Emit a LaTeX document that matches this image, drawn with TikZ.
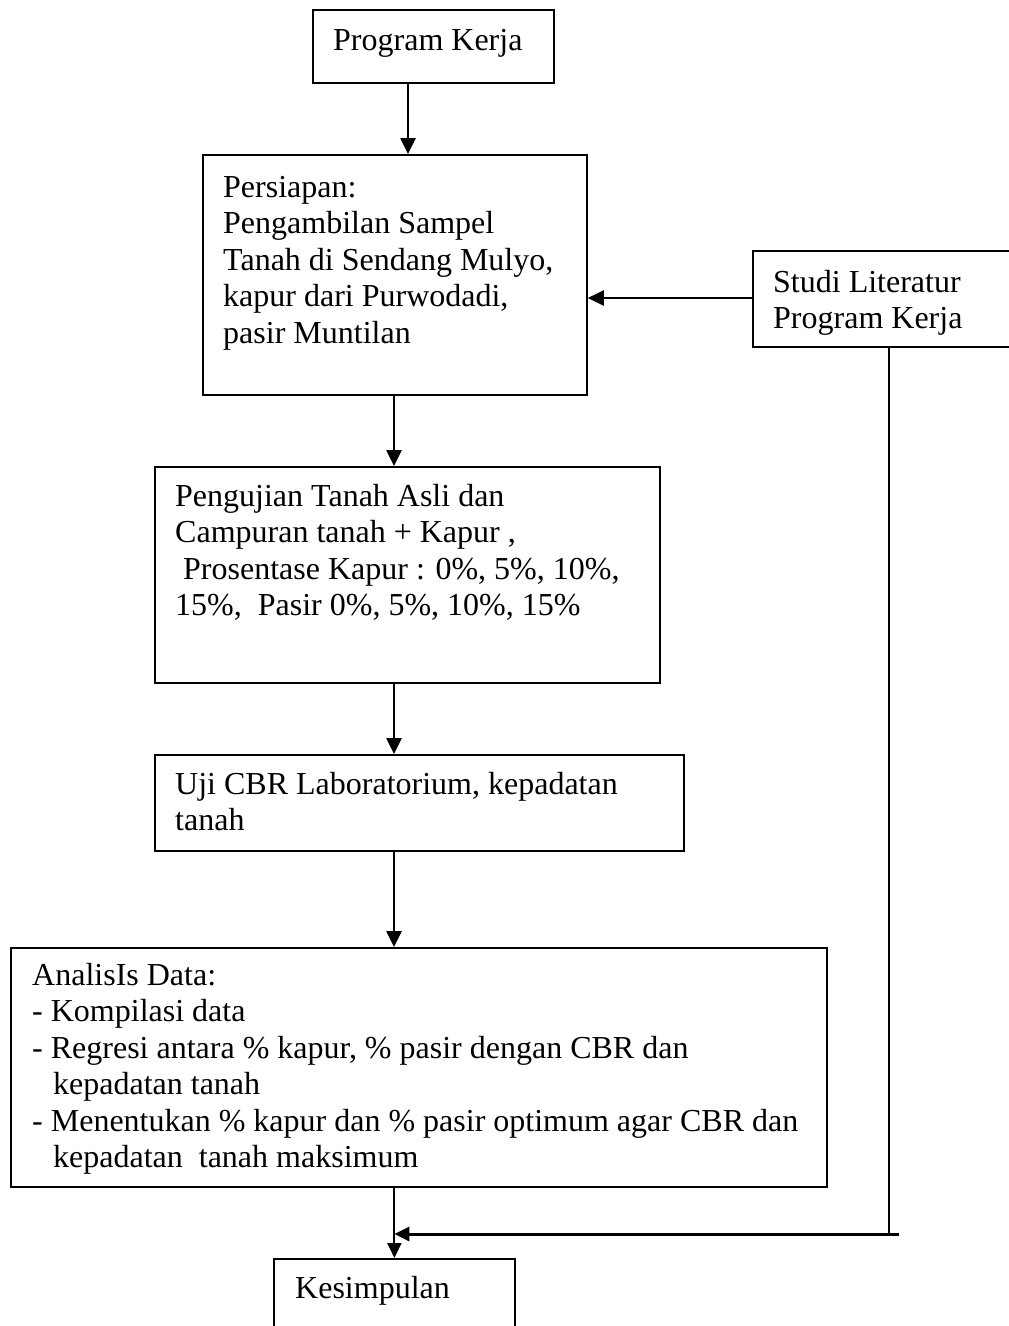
\documentclass[tikz,border=0pt]{standalone}
\usepackage{fontspec}
\setmainfont{Liberation Serif}
\usetikzlibrary{arrows.meta}
\begin{document}
\begin{tikzpicture}[x=1pt,y=-1pt,
  box/.style={draw, line width=1.8pt, rectangle, anchor=north west, inner sep=0pt},
  txt/.style={anchor=north west, inner sep=0pt, align=left, font=\fontsize{32}{36.5}\selectfont},
  arr/.style={line width=2.6pt, -{Triangle[length=16pt,width=15pt]}},
]
\useasboundingbox (0,0) rectangle (1009,1326);
\fill[white] (0,0) rectangle (1009,1326);

% boxes
\node[box, minimum width=241pt, minimum height=73pt] (prog) at (312,9) {};
\node[box, minimum width=384pt, minimum height=240pt] (persiapan) at (202,154) {};
\node[box, minimum width=290pt, minimum height=96pt] (studi) at (752,250) {};
\node[box, minimum width=505pt, minimum height=216pt] (pengujian) at (154,466) {};
\node[box, minimum width=529pt, minimum height=96pt] (uji) at (154,754) {};
\node[box, minimum width=816pt, minimum height=239pt] (analisis) at (10,947) {};
\node[box, minimum width=241pt, minimum height=90pt] (kes) at (273,1258) {};

% texts
\node[txt] (progT) at (333,24.45) {\strut Program Kerja};
\node[txt] (persiapanT) at (223,171.45) {\strut Persiapan:\\Pengambilan Sampel\\Tanah di Sendang Mulyo,\\kapur dari Purwodadi,\\pasir Muntilan};
\node[txt] (studiT) at (773,266.45) {\strut Studi Literatur\\Program Kerja};
\node[txt] (pengujianT) at (175,480.45) {\strut Pengujian Tanah Asli dan\\Campuran tanah + Kapur ,\\\hspace*{8pt}Prosentase Kapur : 0\%, 5\%, 10\%,\\15\%,\ \ Pasir 0\%, 5\%, 10\%, 15\%};
\node[txt] (ujiT) at (175,768.45) {\strut Uji CBR Laboratorium, kepadatan\\tanah};
\node[txt] (analisisT) at (32,959.45) {\strut AnalisIs Data:\\- Kompilasi data\\- Regresi antara \% kapur, \% pasir dengan CBR dan\\\hspace*{21pt}kepadatan tanah\\- Menentukan \% kapur dan \% pasir optimum agar CBR dan\\\hspace*{21pt}kepadatan\ \ tanah maksimum};
\node[txt] (kesT) at (295,1272.45) {\strut Kesimpulan};

% connectors
\coordinate (x1) at (408,0);
\coordinate (x2) at (394,0);
\coordinate (vx) at (889,0);
\coordinate (hj) at (899,1234);
\draw[arr] (prog.south -| x1) -- (persiapan.north -| x1);
\draw[arr] (studi.west |- 0,298) -- (persiapan.east |- 0,298);
\draw[arr] (persiapan.south -| x2) -- (pengujian.north -| x2);
\draw[arr] (pengujian.south -| x2) -- (uji.north -| x2);
\draw[arr] (uji.south -| x2) -- (analisis.north -| x2);
\draw[line width=1.6pt] (studi.south -| vx) -- (vx |- hj);
\draw[line width=3pt, -{Triangle[length=15pt,width=14pt]}] (hj) -- (hj -| kes.north);
\draw[line width=2pt, -{Triangle[length=15pt,width=14pt]}] (kes.north |- analisis.south) -- (kes.north);
\end{tikzpicture}
\end{document}
